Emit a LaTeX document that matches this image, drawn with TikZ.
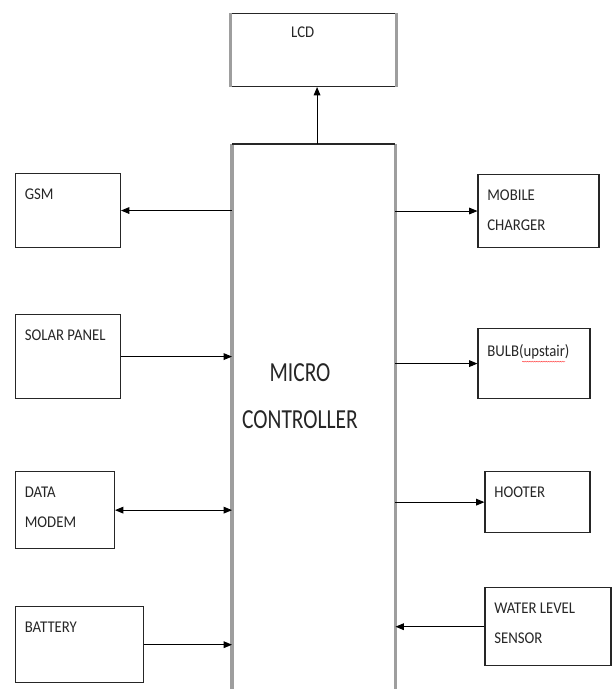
\documentclass[tikz,border=0pt]{standalone}
\usepackage{fontspec}
\setmainfont[FakeStretch=0.9]{Carlito}
\newfontfamily\mcufont[FakeStretch=0.78]{Carlito}
\usetikzlibrary{positioning,arrows.meta,decorations.pathmorphing}

\begin{document}
\begin{tikzpicture}[x=0.3mm,y=-0.3mm,
        >={Triangle[length=2.5mm,width=2mm]},
        box/.style={draw=black!85, line width=0.9pt, inner sep=0pt},
        txt/.style={font=\fontsize{14}{25.5}\selectfont, text=black!85, inner sep=0pt, align=left},
        tag/.style={label={[txt, anchor=north west, xshift=2.9mm, yshift=-4.8mm]north west:#1}},
        link/.style={->, line width=0.8pt},
        side/.style={draw=black!38, line width=2.6pt}]
        \useasboundingbox (0,0) rectangle (611,689);

        \node[minimum width=48.9mm, minimum height=163.5mm, inner sep=0pt, anchor=north west] (mcu) at (232,144) {};
        \node[box, above=17.1mm of mcu, minimum width=49.5mm, minimum height=21.9mm,
              label={[txt, anchor=north, xshift=-3.3mm, yshift=-4.2mm]north:LCD}] (lcd) {};

        \node[box, tag=GSM, minimum width=31.5mm, minimum height=22.2mm, anchor=north east] (gsm) at ([xshift=-33.3mm, yshift=-8.7mm]mcu.north west) {};
        \node[box, tag={SOLAR PANEL}, minimum width=31.5mm, minimum height=25.2mm, below=19.8mm of gsm] (solar) {};
        \node[box, tag={DATA\\MODEM}, minimum width=29.7mm, minimum height=23.1mm, below=21.6mm of solar.south west, anchor=north west] (modem) {};
        \node[box, tag=BATTERY, minimum width=38.4mm, minimum height=22.8mm, below=17.1mm of modem.south west, anchor=north west] (battery) {};

        \node[box, tag={MOBILE\\CHARGER}, minimum width=36.3mm, minimum height=21.9mm, anchor=north west] (charger) at ([xshift=24.6mm, yshift=-9mm]mcu.north east) {};
        \node[box, minimum width=33.6mm, minimum height=21mm, below=24mm of charger.south west, anchor=north west,
              label={[txt, anchor=north west, xshift=2.9mm, yshift=-4.8mm, name=bulbtxt]north west:BULB(upstair)}] (bulb) {};
        \node[box, tag=HOOTER, minimum width=31.5mm, minimum height=18.3mm, below=21.6mm of bulb.south west, anchor=north west, xshift=2.1mm] (hooter) {};
        \node[box, tag={WATER LEVEL\\SENSOR}, minimum width=37.8mm, minimum height=23.4mm, below=16.2mm of hooter.south west, anchor=north west] (sensor) {};

        % micro controller, open at the bottom
        \draw[side] (mcu.south west) -- (mcu.north west);
        \draw[side] (mcu.north east) -- (mcu.south east);
        \draw[black!85, line width=0.9pt] (mcu.north west) -- (mcu.north east);
        \draw[side] (lcd.north west) -- (lcd.south west) (lcd.north east) -- (lcd.south east);
        \node[font=\mcufont\fontsize{23.5}{40}\selectfont, text=black!85, align=center] (mcutxt) at (300,396) {MICRO\\CONTROLLER};

        % spell-check mark under upstair
        \draw[red!75, line width=0.4pt, decorate, decoration={snake, amplitude=0.35pt, segment length=2pt}]
            ([xshift=10.5mm, yshift=-1.6mm]bulbtxt.base west) -- ([xshift=-1.4mm, yshift=-1.6mm]bulbtxt.base east);

        \draw[link] ([xshift=1mm]mcu.north) -- ([xshift=1mm]lcd.south);
        \draw[link] (gsm.east -| mcu.west) -- (gsm.east);
        \draw[link] (solar.east) -- (solar.east -| mcu.west);
        \draw[link, <->] (modem.east) -- (modem.east -| mcu.west);
        \draw[link] (battery.east) -- (battery.east -| mcu.west);
        \draw[link] (charger.west -| mcu.east) -- (charger.west);
        \draw[link] (bulb.west -| mcu.east) -- (bulb.west);
        \draw[link] (hooter.west -| mcu.east) -- (hooter.west);
        \draw[link] (sensor.west) -- (sensor.west -| mcu.east);
\end{tikzpicture}
\end{document}
